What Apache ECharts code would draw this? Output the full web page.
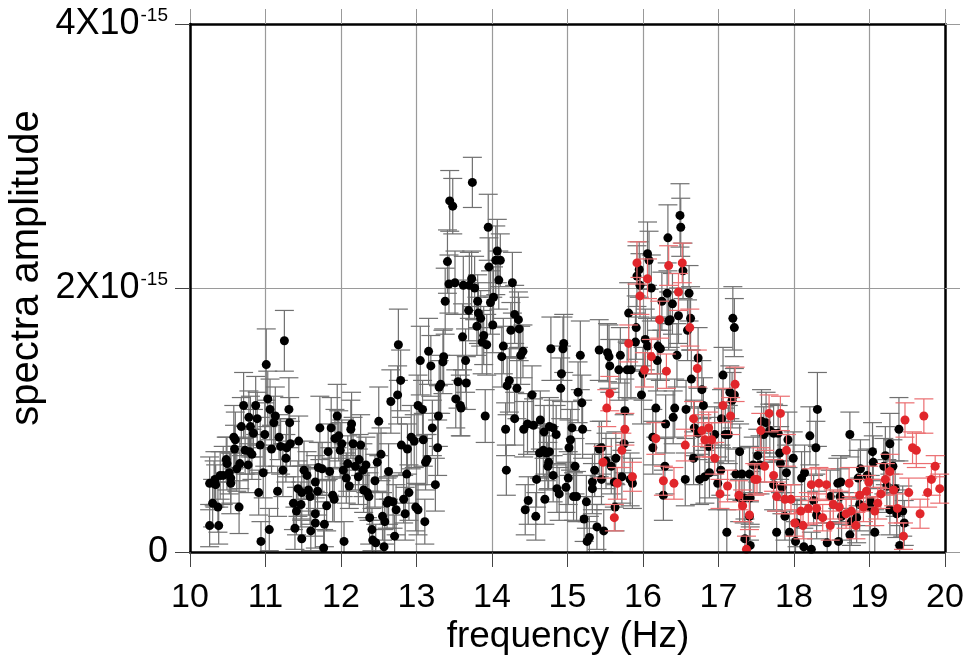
<!DOCTYPE html>
<html><head><meta charset="utf-8">
<script src="https://cdn.jsdelivr.net/npm/echarts@6/dist/echarts.min.js"></script>
<style>html,body{margin:0;padding:0;background:#fff}#c{width:969px;height:666px}</style>
</head><body><div id="c"></div>
<script>
// x tick labels (Hz) and y tick values (units of 1e-15)
const xTicks = [10,11,12,13,14,15,16,17,18,19,20];
const yTicks = [0,2,4];
// [frequency Hz, amplitude (x1e-15), error (x1e-15)]
const blackPoints = [
[10.26,0.52,0.20],[10.26,0.20,0.16],[10.30,0.37,0.18],[10.32,0.52,0.17],[10.33,0.55,0.21],[10.34,0.51,0.15],[10.37,0.34,0.19],[10.38,0.20,0.14],[10.40,0.58,0.18],[10.44,0.58,0.22],[10.48,0.70,0.17],[10.49,0.67,0.20],[10.52,0.60,0.16],[10.54,0.56,0.19],[10.54,0.52,0.23],[10.58,0.87,0.24],[10.59,0.78,0.18],[10.60,0.85,0.21],[10.62,0.63,0.17],[10.65,0.34,0.20],[10.66,0.67,0.19],[10.68,0.95,0.22],[10.71,1.11,0.25],[10.73,0.77,0.18],[10.77,0.66,0.21],[10.78,1.02,0.20],[10.79,0.76,0.17],[10.80,0.95,0.23],[10.82,0.74,0.19],[10.84,0.90,0.18],[10.87,1.11,0.22],[10.89,1.01,0.20],[10.91,0.45,0.17],[10.93,0.81,0.21],[10.94,0.08,0.15],[10.97,0.60,0.19],[10.99,0.89,0.24],[11.01,1.42,0.27],[11.03,1.16,0.21],[11.05,0.17,0.16],[11.06,1.08,0.23],[11.08,0.78,0.18],[11.11,0.98,0.20],[11.13,1.03,0.22],[11.16,0.46,0.19],[11.18,0.87,0.17],[11.20,0.80,0.21],[11.23,0.62,0.20],[11.25,1.60,0.23],[11.27,0.71,0.18],[11.28,0.79,0.22],[11.31,1.08,0.24],[11.32,0.98,0.19],[11.33,0.82,0.17],[11.37,0.37,0.20],[11.39,0.18,0.16],[11.41,0.31,0.18],[11.43,0.48,0.21],[11.44,0.84,0.19],[11.47,0.36,0.17],[11.48,0.45,0.20],[11.48,0.10,0.14],[11.51,0.62,0.22],[11.55,0.58,0.18],[11.57,0.47,0.19],[11.59,0.42,0.21],[11.60,0.16,0.15],[11.66,0.53,0.20],[11.66,0.29,0.17],[11.66,0.22,0.19],[11.69,0.46,0.18],[11.72,0.94,0.24],
[11.70,0.64,0.19],[11.75,0.63,0.20],[11.77,0.03,0.14],[11.78,0.21,0.17],[11.81,0.35,0.19],[11.83,0.76,0.21],[11.85,0.61,0.18],[11.87,0.94,0.23],[11.89,0.43,0.20],[11.91,0.40,0.17],[11.92,0.86,0.22],[11.95,1.03,0.24],[11.97,0.88,0.19],[11.99,0.77,0.21],[12.01,0.82,0.18],[12.03,0.62,0.20],[12.04,0.08,0.15],[12.07,0.56,0.19],[12.09,0.67,0.21],[12.11,0.50,0.17],[12.13,0.93,0.22],[12.14,0.97,0.24],[12.16,0.82,0.20],[12.19,0.65,0.18],[12.23,0.57,0.21],[12.24,0.70,0.19],[12.26,0.81,0.23],[12.29,0.62,0.20],[12.30,0.47,0.17],[12.33,0.66,0.21],[12.35,0.45,0.19],[12.37,0.42,0.18],[12.38,0.26,0.20],[12.41,0.17,0.16],[12.42,0.09,0.15],[12.45,0.54,0.20],[12.46,0.07,0.14],[12.48,0.68,0.22],[12.50,0.99,0.26],[12.53,0.74,0.20],[12.55,0.27,0.18],[12.57,0.04,0.13],[12.58,0.23,0.17],[12.61,0.37,0.19],[12.63,0.61,0.21],[12.63,0.39,0.18],[12.66,1.14,0.24],[12.69,0.38,0.20],[12.71,0.12,0.16],[12.73,0.32,0.19],[12.75,1.19,0.22],[12.76,1.57,0.27],[12.79,1.30,0.23],[12.80,0.81,0.21],[12.83,0.40,0.18],[12.85,0.29,0.20],[12.87,0.59,0.22],[12.88,0.78,0.19],[12.90,0.45,0.21],[12.93,0.87,0.24],[12.97,0.84,0.20],[12.99,0.34,0.18],[13.02,1.11,0.23],[13.02,0.32,0.19],[13.05,1.45,0.26],[13.08,1.08,0.22],[13.09,0.85,0.20],[13.11,0.23,0.17],[13.12,0.68,0.21],[13.14,0.70,0.19],[13.16,1.52,0.25],[13.19,1.41,0.23],[13.21,0.94,0.21],[13.25,0.51,0.20],
[13.28,0.79,0.21],[13.29,1.03,0.23],[13.30,1.25,0.20],[13.32,1.27,0.22],[13.35,1.44,0.24],[13.36,1.48,0.21],[13.38,1.90,0.25],[13.41,2.20,0.24],[13.43,2.03,0.22],[13.44,2.66,0.23],[13.48,2.62,0.21],[13.51,2.04,0.24],[13.52,1.16,0.22],[13.55,1.29,0.20],[13.58,1.11,0.23],[13.59,1.09,0.21],[13.61,1.63,0.25],[13.62,2.02,0.22],[13.65,1.45,0.24],[13.66,1.28,0.20],[13.69,1.83,0.23],[13.70,2.02,0.25],[13.73,2.07,0.21],[13.74,2.80,0.19],[13.77,2.00,0.24],[13.80,1.71,0.22],[13.81,1.90,0.20],[13.82,1.81,0.23],[13.85,1.77,0.21],[13.87,1.59,0.24],[13.89,1.64,0.22],[13.91,1.03,0.20],[13.93,1.57,0.23],[13.95,2.46,0.25],[13.96,2.16,0.22],[13.98,1.89,0.24],[14.01,1.72,0.21],[14.02,1.93,0.23],[14.05,2.21,0.26],[14.07,2.28,0.24],[14.09,2.06,0.22],[14.11,2.21,0.20],[14.13,1.48,0.23],[14.15,1.56,0.21],[14.18,0.93,0.20],[14.19,0.62,0.19],[14.20,1.26,0.22],[14.23,1.30,0.24],[14.25,1.68,0.21],[14.27,2.04,0.23],[14.30,1.80,0.22],[14.30,1.01,0.20],[14.33,1.24,0.23],[14.35,1.76,0.21],[14.36,1.69,0.24],[14.38,1.49,0.22],[14.41,1.52,0.20],[14.42,0.93,0.21],[14.44,0.32,0.19],[14.47,0.97,0.23],[14.48,0.39,0.18],[14.53,1.19,0.22],[14.55,0.96,0.20],[14.58,0.27,0.18],[14.59,0.55,0.21],[14.63,0.75,0.19],[14.64,1.00,0.22],[14.69,0.91,0.20],[14.70,0.40,0.19],[14.72,0.75,0.21],[14.75,0.68,0.20],[14.78,1.54,0.24],
[14.68,0.77,0.20],[14.74,0.65,0.18],[14.76,0.95,0.22],[14.76,0.76,0.19],[14.81,0.94,0.21],[14.81,0.58,0.20],[14.85,0.89,0.22],[14.86,0.48,0.18],[14.89,0.44,0.20],[14.91,1.24,0.23],[14.92,1.35,0.21],[14.94,1.54,0.24],[14.95,1.58,0.22],[14.98,0.49,0.19],[15.01,0.56,0.20],[15.02,0.79,0.21],[15.04,0.85,0.23],[15.06,0.94,0.20],[15.08,0.42,0.18],[15.10,0.65,0.21],[15.12,0.42,0.19],[15.14,1.21,0.23],[15.17,1.49,0.26],[15.19,1.13,0.21],[15.20,0.93,0.22],[15.22,0.25,0.17],[15.25,0.38,0.20],[15.26,0.08,0.15],[15.29,0.11,0.16],[15.33,0.53,0.21],[15.33,0.48,0.19],[15.36,0.62,0.20],[15.39,0.19,0.17],[15.42,1.53,0.23],[15.42,0.78,0.21],[15.45,0.79,0.20],[15.45,0.55,0.19],[15.48,0.16,0.16],[15.51,0.69,0.21],[15.53,1.51,0.22],[15.55,1.48,0.24],[15.56,1.41,0.20],[15.58,0.65,0.21],[15.62,0.53,0.19],[15.63,0.34,0.18],[15.64,0.71,0.20],[15.68,1.38,0.23],[15.70,1.49,0.21],[15.72,0.57,0.20],[15.75,0.82,0.22],[15.76,1.07,0.24],[15.79,1.38,0.21],[15.81,1.81,0.23],[15.83,0.55,0.20],[15.84,1.38,0.22],[15.86,0.52,0.19],[15.90,1.59,0.22],[15.91,1.70,0.24],[15.92,2.09,0.23],[15.95,2.14,0.21],[15.96,2.02,0.24],[15.98,1.19,0.22],[16.00,1.35,0.20],[16.03,1.61,0.23],[16.06,2.26,0.24],[16.06,1.56,0.21],[16.08,2.21,0.22],[16.11,2.00,0.25],[16.13,0.87,0.21],[16.13,0.79,0.20],[16.17,1.09,0.22],[16.19,1.45,0.23],[16.20,1.56,0.21],[16.23,1.54,0.24],[16.25,1.90,0.22],[16.27,0.43,0.19],[16.29,0.65,0.21],[16.30,0.97,0.22],[16.32,1.96,0.23],[16.33,2.38,0.25],[16.34,1.75,0.22],
[16.36,1.76,0.21],[16.39,1.88,0.23],[16.40,1.02,0.20],[16.42,1.09,0.22],[16.45,1.49,0.24],[16.47,1.79,0.21],[16.49,2.55,0.24],[16.50,2.46,0.22],[16.53,2.13,0.21],[16.56,0.55,0.20],[16.57,1.08,0.22],[16.59,1.68,0.23],[16.61,1.96,0.21],[16.63,1.77,0.24],[16.64,1.31,0.22],[16.67,0.71,0.20],[16.68,0.94,0.21],[16.73,1.47,0.23],[16.73,0.90,0.20],[16.75,0.55,0.19],[16.78,1.23,0.22],[16.80,1.11,0.21],[16.82,0.57,0.20],[16.87,0.80,0.22],[16.88,0.60,0.19],[16.95,0.89,0.21],[16.99,0.52,0.20],[17.03,0.62,0.19],[17.04,1.01,0.22],[17.06,1.34,0.21],[17.09,0.89,0.20],[17.11,0.15,0.17],[17.13,0.89,0.22],[17.15,1.21,0.20],[17.18,1.15,0.21],[17.19,1.77,0.24],[17.21,1.70,0.22],[17.21,1.19,0.20],[17.23,0.59,0.19],[17.28,0.76,0.21],[17.28,0.41,0.18],[17.31,0.59,0.20],[17.34,0.41,0.19],[17.35,0.10,0.15],[17.41,0.59,0.21],[17.41,0.27,0.18],[17.42,0.41,0.20],[17.42,0.05,0.14],[17.46,0.66,0.21],[17.52,0.73,0.20],[17.55,0.66,0.22],[17.57,0.99,0.24],[17.60,0.89,0.21],[17.63,0.98,0.23],[17.68,0.92,0.20],[17.73,0.90,0.22],[17.73,0.51,0.19],[17.77,0.15,0.16],[17.79,0.90,0.21],[17.81,0.75,0.20],[17.82,0.67,0.22],[17.92,0.85,0.21],
[17.84,0.49,0.20],[17.88,0.27,0.18],[17.90,0.60,0.21],[17.94,0.15,0.16],[17.99,0.71,0.20],[18.02,0.08,0.15],[18.04,0.22,0.18],[18.10,0.56,0.20],[18.13,0.04,0.14],[18.14,0.60,0.21],[18.21,0.88,0.22],[18.23,0.02,0.13],[18.26,0.39,0.19],[18.29,0.79,0.20],[18.30,0.28,0.18],[18.31,1.08,0.28],[18.44,0.07,0.15],[18.48,0.42,0.20],[18.58,0.52,0.19],[18.59,0.08,0.15],[18.61,0.42,0.21],[18.62,0.53,0.20],[18.63,0.27,0.18],[18.74,0.89,0.17],[18.74,0.13,0.16],[18.76,0.23,0.18],[18.83,0.26,0.19],[18.85,0.56,0.21],[18.87,0.36,0.20],[18.88,0.63,0.22],[18.97,0.58,0.20],[19.01,0.39,0.19],[19.01,0.34,0.21],[19.04,0.76,0.22],[19.05,0.68,0.20],[19.07,0.15,0.17],[19.19,0.65,0.21],[19.21,0.73,0.22],[19.23,0.50,0.20],[19.27,0.82,0.23],[19.27,0.32,0.19],[19.31,0.65,0.20],[19.34,0.48,0.21],[19.36,0.29,0.18],[19.39,0.93,0.24],[19.40,0.05,0.15],[19.44,0.31,0.19],[19.46,0.22,0.17]
];
const redPoints = [
[15.47,0.68,0.12],[15.52,1.09,0.14],[15.56,1.20,0.13],[15.62,0.26,0.10],[15.66,0.52,0.12],[15.72,0.77,0.13],[15.76,0.93,0.12],[15.81,1.58,0.14],[15.86,0.57,0.11],[15.92,2.19,0.16],[15.96,1.94,0.14],[16.02,1.38,0.13],[16.06,2.07,0.15],[16.11,1.48,0.13],[16.17,0.86,0.12],[16.22,1.76,0.14],[16.27,0.54,0.11],[16.31,1.37,0.13],[16.34,2.17,0.15],[16.41,0.52,0.12],[16.47,1.97,0.14],[16.52,2.19,0.15],[16.56,0.81,0.12],[16.62,1.70,0.14],[16.67,1.01,0.13],[16.72,1.39,0.14],[16.78,0.92,0.12],[16.82,0.85,0.13],[16.87,0.94,0.12],[16.91,0.85,0.13],[16.95,0.71,0.12],[17.02,0.44,0.11],[17.06,1.11,0.13],[17.12,0.50,0.12],[17.16,1.03,0.14],[17.22,1.27,0.13],[17.27,0.43,0.11],[17.32,0.35,0.12],[17.37,0.02,0.10],[17.41,0.28,0.11],[17.48,0.55,0.12],[17.51,0.55,0.11],[17.56,0.92,0.13],[17.61,0.65,0.12],[17.67,1.05,0.14],[17.73,0.58,0.12],[17.77,0.42,0.11],[17.82,1.05,0.13],[17.88,0.40,0.11],[17.90,0.77,0.12],[17.96,0.40,0.11],[18.01,0.22,0.10],[18.09,0.31,0.11],[18.12,0.20,0.10],[18.19,0.33,0.12],[18.23,0.51,0.12],[18.30,0.33,0.11],[18.33,0.52,0.12],[18.38,0.26,0.10],[18.43,0.51,0.12],[18.48,0.20,0.11],[18.52,0.36,0.11],[18.60,0.34,0.12],[18.69,0.29,0.11],[18.73,0.52,0.12],[18.76,0.31,0.11],[18.82,0.20,0.10],[18.87,0.43,0.12],[18.92,0.34,0.11],[18.96,0.46,0.12],[18.99,0.53,0.12],[19.07,0.31,0.11],[19.11,0.37,0.12],[19.15,0.44,0.11],[19.21,0.55,0.12],[19.27,0.61,0.13],[19.32,0.47,0.12],[19.37,0.33,0.11],[19.45,0.12,0.10],[19.47,1.00,0.13],[19.52,0.45,0.11],[19.57,0.79,0.12],[19.62,0.77,0.13],[19.67,0.29,0.11],[19.72,1.03,0.13],[19.77,0.45,0.11],[19.82,0.55,0.12],[19.87,0.65,0.08],[19.93,0.48,0.11]
];

const FONT = 'Liberation Sans, Arial, Helvetica, sans-serif';
function errRender(color){
  return function(params, api){
    const x = api.value(0), y = api.value(1), e = api.value(2);
    const hi = Math.min(4, y + e), lo = Math.max(0, y - e);
    const t = api.coord([x, hi]), b = api.coord([x, lo]);
    const hw = 9.5;
    const st = {stroke: color, lineWidth: 1.2};
    const ch = [{type:'line', shape:{x1:t[0],y1:t[1],x2:b[0],y2:b[1]}, style:st}];
    if (y + e <= 4) ch.push({type:'line', shape:{x1:t[0]-hw,y1:t[1],x2:t[0]+hw,y2:t[1]}, style:st});
    if (y - e >= 0) ch.push({type:'line', shape:{x1:b[0]-hw,y1:b[1],x2:b[0]+hw,y2:b[1]}, style:st});
    return {type:'group', children: ch};
  };
}
const chart = echarts.init(document.getElementById('c'), null, {renderer:'canvas'});
const xMin = xTicks[0], xMax = xTicks[xTicks.length-1];
const yMin = yTicks[0], yMax = yTicks[yTicks.length-1];
const baseX = {type:'value', min:xMin, max:xMax, interval:1};
const baseY = {type:'value', min:yMin, max:yMax, interval:2};
chart.setOption({
  animation: false,
  backgroundColor: '#fff',
  grid: {left:190, right:24, top:24, bottom:114, containLabel:false},
  xAxis: [
    Object.assign({}, baseX, {position:'bottom', z:6,
      axisLine:{show:true, onZero:false, lineStyle:{color:'#000', width:2.5}},
      axisTick:{show:true, inside:false, length:15, lineStyle:{color:'#444', width:1}},
      axisLabel:{show:true, fontSize:34, color:'#000', fontFamily:FONT, margin:29},
      splitLine:{show:false}}),
    Object.assign({}, baseX, {position:'top', z:0,
      axisLine:{show:true, onZero:false, lineStyle:{color:'#000', width:2.5}},
      axisTick:{show:true, inside:false, length:15, lineStyle:{color:'#999', width:1}},
      axisLabel:{show:false},
      splitLine:{show:true, lineStyle:{color:'#9a9a9a', width:1.2}}})
  ],
  yAxis: [
    Object.assign({}, baseY, {position:'left', z:6,
      axisLine:{show:true, onZero:false, lineStyle:{color:'#000', width:2.5}},
      axisTick:{show:true, inside:false, length:15, lineStyle:{color:'#444', width:1}},
      axisLabel:{show:true, fontSize:36, color:'#000', fontFamily:FONT, margin:22,
        formatter: v => v === 0 ? '0' : v + 'X10{s|-15}',
        rich:{s:{fontSize:19, fontFamily:FONT, color:'#000', verticalAlign:'top', padding:[0,0,0,1]}}},
      splitLine:{show:false}}),
    Object.assign({}, baseY, {position:'right', z:0,
      axisLine:{show:true, onZero:false, lineStyle:{color:'#000', width:2.5}},
      axisTick:{show:true, inside:false, length:15, lineStyle:{color:'#999', width:1}},
      axisLabel:{show:false},
      splitLine:{show:true, lineStyle:{color:'#9a9a9a', width:1.2}}})
  ],
  graphic: [
    {type:'text', x:568, y:637, z:10, style:{text:'frequency (Hz)', font:'37px ' + FONT, fill:'#000', align:'center', verticalAlign:'middle'}},
    {type:'text', x:27, y:268, rotation:Math.PI/2, z:10, style:{text:'spectra amplitude', font:'40px ' + FONT, fill:'#000', align:'center', verticalAlign:'middle'}}
  ],
  series: [
    {type:'custom', name:'black err', xAxisIndex:0, yAxisIndex:0, z:2, renderItem: errRender('#707070'), encode:{x:0, y:1}, data: blackPoints, silent:true},
    {type:'scatter', name:'black', xAxisIndex:0, yAxisIndex:0, z:3, symbol:'circle', symbolSize:9, itemStyle:{color:'#000', opacity:1}, encode:{x:0, y:1}, data: blackPoints, silent:true},
    {type:'custom', name:'red err', xAxisIndex:0, yAxisIndex:0, z:4, renderItem: errRender('#eb6d70'), encode:{x:0, y:1}, data: redPoints, silent:true},
    {type:'scatter', name:'red', xAxisIndex:0, yAxisIndex:0, z:5, symbol:'circle', symbolSize:9, itemStyle:{color:'#e1262b', opacity:1}, encode:{x:0, y:1}, data: redPoints, silent:true}
  ]
});
</script>
</body></html>
